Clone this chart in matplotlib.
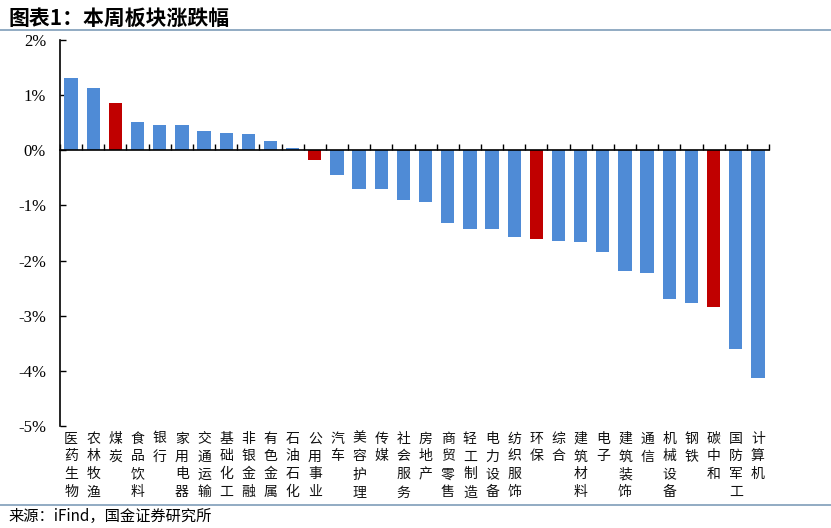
import numpy as np
import matplotlib.pyplot as plt
from matplotlib.lines import Line2D

plt.rcParams['font.family'] = ['Noto Sans CJK SC', 'DejaVu Sans']

sectores = ['医药生物', '农林牧渔', '煤炭', '食品饮料', '银行', '家用电器', '交通运输',
            '基础化工', '非银金融', '有色金属', '石油石化', '公用事业', '汽车', '美容护理',
            '传媒', '社会服务', '房地产', '商贸零售', '轻工制造', '电力设备', '纺织服饰',
            '环保', '综合', '建筑材料', '电子', '建筑装饰', '通信', '机械设备', '钢铁',
            '碳中和', '国防军工', '计算机']
cambio = [1.31, 1.13, 0.86, 0.52, 0.46, 0.46, 0.35, 0.32, 0.29, 0.17, 0.045, -0.17,
          -0.44, -0.71, -0.71, -0.91, -0.94, -1.31, -1.42, -1.43, -1.57, -1.61, -1.65,
          -1.67, -1.85, -2.18, -2.23, -2.70, -2.77, -2.85, -3.61, -4.13]
destacados = ['煤炭', '公用事业', '环保', '碳中和']
yticks = [2, 1, 0, -1, -2, -3, -4, -5]

azul = '#4F8BD6'
rojo = '#C00000'
colores = [rojo if s in destacados else azul for s in sectores]

fig = plt.figure(figsize=(8.31, 5.28), dpi=100)
ax = fig.add_axes([0.0722, 0.1932, 0.8532, 0.7310])

x = np.arange(len(sectores))
ax.bar(x, cambio, width=0.6, color=colores, zorder=2)

ax.set_xlim(-0.5, len(sectores) - 0.5)
ax.set_ylim(-5, 2)
ax.set_yticks(yticks)
ax.set_yticklabels([f'{v}%' for v in yticks], fontfamily='Liberation Serif', fontsize=12)
ax.tick_params(axis='y', direction='in', length=4, width=1, pad=10)

ax.spines['top'].set_visible(False)
ax.spines['right'].set_visible(False)
ax.spines['bottom'].set_position(('data', 0))
ax.spines['left'].set_linewidth(1.2)
ax.spines['bottom'].set_linewidth(1.2)
ax.set_xticks(np.arange(-0.5, len(sectores), 1))
ax.set_xticklabels([])
ax.tick_params(axis='x', direction='in', length=4, width=1)

for i, s in enumerate(sectores):
    ax.text(i, -5.1, '\n'.join(s), ha='center', va='top', fontsize=10,
            linespacing=1.36, color='#111111')

fig.text(0.01, 0.966, '图表1：本周板块涨跌幅', fontsize=15, fontweight='bold',
         style='italic', va='center', ha='left')
fig.add_artist(Line2D([0, 1], [0.943, 0.943], color='#7F9DB9', linewidth=1.2))
fig.add_artist(Line2D([0, 1], [0.044, 0.044], color='#7F9DB9', linewidth=1.2))
fig.text(0.01, 0.022, '来源：iFind，国金证券研究所', fontsize=11, va='center', ha='left')

plt.savefig('out.png', dpi=100)
plt.close()
